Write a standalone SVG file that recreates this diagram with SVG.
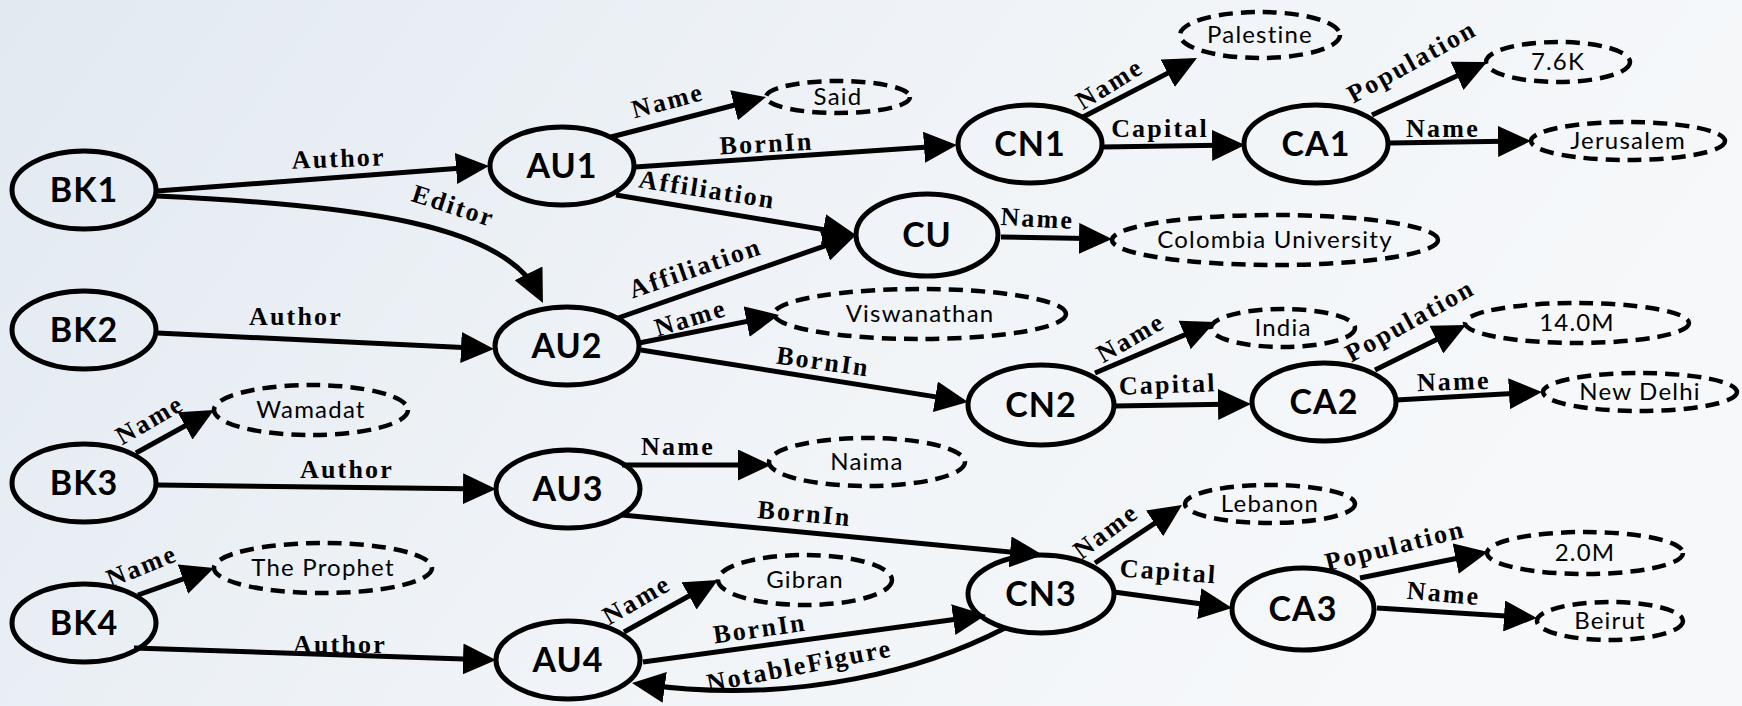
<svg xmlns="http://www.w3.org/2000/svg" width="1742" height="706" viewBox="0 0 1742 706">
<defs>
<linearGradient id="bg" x1="0" y1="0" x2="1" y2="0.3">
<stop offset="0" stop-color="#e2e9f1"/>
<stop offset="0.5" stop-color="#eff3f7"/>
<stop offset="1" stop-color="#f6f8fa"/>
</linearGradient>
<marker id="arr" markerUnits="userSpaceOnUse" viewBox="0 0 33 31" markerWidth="33" markerHeight="31" refX="23" refY="15.5" orient="auto">
<path d="M0,0 L33,15.5 L0,31 z" fill="#000"/>
</marker>
<style>
.n{fill:none;stroke:#000;stroke-width:5}
.l{fill:none;stroke:#000;stroke-width:4.5;stroke-dasharray:14 8}
.nt{font-family:Lato,"Open Sans",sans-serif;font-weight:bold;font-size:34px;text-anchor:middle;letter-spacing:1px}
.lt{font-family:Lato,"Open Sans",sans-serif;font-size:24px;text-anchor:middle;letter-spacing:1.2px}
.e{fill:none;stroke:#000;stroke-width:5;marker-end:url(#arr)}
.el{font-family:"Liberation Serif","Times New Roman",serif;font-weight:bold;font-size:26px;text-anchor:middle;letter-spacing:2.2px}
</style>
</defs>
<rect width="1742" height="706" fill="url(#bg)"/>
<g id="connectors">
<path class="e" d="M157,191 L479,166.8"/>
<path class="e" d="M157,196 C360,205 505,225 538.6,294"/>
<path class="e" d="M157,333 L484,348.5"/>
<path class="e" d="M136,453 L205.2,414.8"/>
<path class="e" d="M157,485 L486,488.9"/>
<path class="e" d="M138,595 L204.6,571.4"/>
<path class="e" d="M134,648 L486,659.7"/>
<path class="e" d="M611,137 L756.3,99.5"/>
<path class="e" d="M635,167 L947,145.7"/>
<path class="e" d="M616,195 L846.1,233.4"/>
<path class="e" d="M618,318 L846.6,238.3"/>
<path class="e" d="M639,343 L769.2,317"/>
<path class="e" d="M641,350 L958.1,400.4"/>
<path class="e" d="M1001,237 L1102,238.8"/>
<path class="e" d="M1083,117 L1188.1,62.6"/>
<path class="e" d="M1102,147 L1235,145.1"/>
<path class="e" d="M1372,115 L1477.9,66.2"/>
<path class="e" d="M1390,143 L1521,141.1"/>
<path class="e" d="M1095,373 L1205.8,325.9"/>
<path class="e" d="M1114,406 L1241,404.1"/>
<path class="e" d="M1375,370 L1457,329.4"/>
<path class="e" d="M1396,400 L1532,392.5"/>
<path class="e" d="M622,465 L761,465"/>
<path class="e" d="M622,515 L1033,554.1"/>
<path class="e" d="M624,632 L709.2,584.8"/>
<path class="e" d="M643,662 L976.1,616.4"/>
<path class="e" d="M1005,628 C930,667 800,706 641.9,684.3"/>
<path class="e" d="M1095,563 L1173.7,510.6"/>
<path class="e" d="M1114,592 L1222.1,606.7"/>
<path class="e" d="M1360,578 L1478.2,554"/>
<path class="e" d="M1377,608 L1527,617.4"/>
<text class="el" transform="translate(339,167) rotate(-2)">Author</text>
<text class="el" transform="translate(451,214) rotate(18)">Editor</text>
<text class="el" x="296" y="325">Author</text>
<text class="el" transform="translate(154,427) rotate(-30)">Name</text>
<text class="el" x="347" y="478">Author</text>
<text class="el" transform="translate(145,574) rotate(-22)">Name</text>
<text class="el" x="340" y="653">Author</text>
<text class="el" transform="translate(670,109) rotate(-15)">Name</text>
<text class="el" transform="translate(767,152) rotate(-3)">BornIn</text>
<text class="el" transform="translate(706,198) rotate(9)">Affiliation</text>
<text class="el" transform="translate(698,276) rotate(-19)">Affiliation</text>
<text class="el" transform="translate(693,326) rotate(-17)">Name</text>
<text class="el" transform="translate(822,370) rotate(8)">BornIn</text>
<text class="el" transform="translate(1037,227) rotate(3)">Name</text>
<text class="el" transform="translate(1114,91) rotate(-32)">Name</text>
<text class="el" x="1160" y="137">Capital</text>
<text class="el" transform="translate(1416,69) rotate(-29)">Population</text>
<text class="el" x="1443" y="137">Name</text>
<text class="el" transform="translate(1135,345) rotate(-30)">Name</text>
<text class="el" transform="translate(1168,393) rotate(-2)">Capital</text>
<text class="el" transform="translate(1414,328) rotate(-29)">Population</text>
<text class="el" transform="translate(1454,390) rotate(-2)">Name</text>
<text class="el" x="678" y="455">Name</text>
<text class="el" transform="translate(804,522) rotate(5)">BornIn</text>
<text class="el" transform="translate(641,607) rotate(-30)">Name</text>
<text class="el" transform="translate(761,637) rotate(-8)">BornIn</text>
<text class="el" transform="translate(801,674) rotate(-11)">NotableFigure</text>
<text class="el" transform="translate(1111,538) rotate(-37)">Name</text>
<text class="el" transform="translate(1168,580) rotate(4)">Capital</text>
<text class="el" transform="translate(1397,554) rotate(-14)">Population</text>
<text class="el" transform="translate(1443,602) rotate(5)">Name</text>
</g>
<g id="BK1"><ellipse class="n" cx="84" cy="190" rx="72" ry="39"/><text class="nt" x="84" y="202">BK1</text></g>
<g id="BK2"><ellipse class="n" cx="84" cy="330" rx="72" ry="39"/><text class="nt" x="84" y="342">BK2</text></g>
<g id="BK3"><ellipse class="n" cx="84" cy="483" rx="72" ry="39"/><text class="nt" x="84" y="495">BK3</text></g>
<g id="BK4"><ellipse class="n" cx="84" cy="623" rx="72" ry="39"/><text class="nt" x="84" y="635">BK4</text></g>
<g id="AU1"><ellipse class="n" cx="562" cy="166" rx="72" ry="39"/><text class="nt" x="562" y="178">AU1</text></g>
<g id="AU2"><ellipse class="n" cx="567" cy="346" rx="72" ry="39"/><text class="nt" x="567" y="358">AU2</text></g>
<g id="AU3"><ellipse class="n" cx="568" cy="489" rx="72" ry="39"/><text class="nt" x="568" y="501">AU3</text></g>
<g id="AU4"><ellipse class="n" cx="568" cy="660" rx="72" ry="39"/><text class="nt" x="568" y="672">AU4</text></g>
<g id="CN1"><ellipse class="n" cx="1030" cy="144" rx="72" ry="39"/><text class="nt" x="1030" y="156">CN1</text></g>
<g id="CU"><ellipse class="n" cx="927" cy="235" rx="71" ry="41"/><text class="nt" x="927" y="247">CU</text></g>
<g id="CN2"><ellipse class="n" cx="1041" cy="405" rx="73" ry="40"/><text class="nt" x="1041" y="417">CN2</text></g>
<g id="CN3"><ellipse class="n" cx="1041" cy="594" rx="73" ry="39"/><text class="nt" x="1041" y="606">CN3</text></g>
<g id="CA1"><ellipse class="n" cx="1316" cy="144" rx="72" ry="39"/><text class="nt" x="1316" y="156">CA1</text></g>
<g id="CA2"><ellipse class="n" cx="1324" cy="402" rx="72" ry="39"/><text class="nt" x="1324" y="414">CA2</text></g>
<g id="CA3"><ellipse class="n" cx="1303" cy="609" rx="71" ry="41"/><text class="nt" x="1303" y="621">CA3</text></g>
<g id="Said"><ellipse class="l" cx="838" cy="97" rx="72" ry="16"/><text class="lt" x="838" y="105">Said</text></g>
<g id="Palestine"><ellipse class="l" cx="1260" cy="35" rx="80" ry="23"/><text class="lt" x="1260" y="43">Palestine</text></g>
<g id="V76K"><ellipse class="l" cx="1558" cy="62" rx="72" ry="20"/><text class="lt" x="1558" y="70">7.6K</text></g>
<g id="Jerusalem"><ellipse class="l" cx="1628" cy="141" rx="97" ry="19"/><text class="lt" x="1628" y="149">Jerusalem</text></g>
<g id="ColombiaUniversity"><ellipse class="l" cx="1275" cy="240" rx="163" ry="25"/><text class="lt" x="1275" y="248">Colombia University</text></g>
<g id="Viswanathan"><ellipse class="l" cx="920" cy="314" rx="146" ry="25"/><text class="lt" x="920" y="322">Viswanathan</text></g>
<g id="India"><ellipse class="l" cx="1283" cy="328" rx="72" ry="19"/><text class="lt" x="1283" y="336">India</text></g>
<g id="V140M"><ellipse class="l" cx="1577" cy="323" rx="112" ry="20"/><text class="lt" x="1577" y="331">14.0M</text></g>
<g id="NewDelhi"><ellipse class="l" cx="1640" cy="392" rx="97" ry="19"/><text class="lt" x="1640" y="400">New Delhi</text></g>
<g id="Wamadat"><ellipse class="l" cx="311" cy="410" rx="97" ry="25"/><text class="lt" x="311" y="418">Wamadat</text></g>
<g id="Naima"><ellipse class="l" cx="867" cy="462" rx="98" ry="24"/><text class="lt" x="867" y="470">Naima</text></g>
<g id="Lebanon"><ellipse class="l" cx="1270" cy="504" rx="85" ry="19"/><text class="lt" x="1270" y="512">Lebanon</text></g>
<g id="V20M"><ellipse class="l" cx="1585" cy="553" rx="98" ry="21"/><text class="lt" x="1585" y="561">2.0M</text></g>
<g id="Beirut"><ellipse class="l" cx="1610" cy="621" rx="73" ry="19"/><text class="lt" x="1610" y="629">Beirut</text></g>
<g id="TheProphet"><ellipse class="l" cx="323" cy="568" rx="109" ry="25"/><text class="lt" x="323" y="576">The Prophet</text></g>
<g id="Gibran"><ellipse class="l" cx="805" cy="580" rx="87" ry="25"/><text class="lt" x="805" y="588">Gibran</text></g>
</svg>
